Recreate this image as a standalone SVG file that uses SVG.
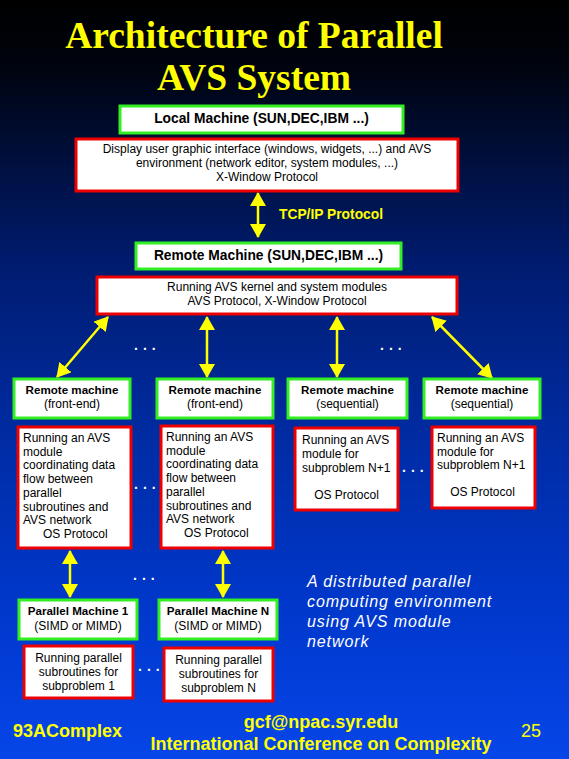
<svg xmlns="http://www.w3.org/2000/svg" width="569" height="759" viewBox="0 0 569 759">
<defs>
<linearGradient id="bg" x1="0" y1="0" x2="0" y2="1">
<stop offset="0" stop-color="#000000"/>
<stop offset="0.08" stop-color="#00030c"/>
<stop offset="0.35" stop-color="#001c70"/>
<stop offset="0.6" stop-color="#002da8"/>
<stop offset="0.8" stop-color="#0038cc"/>
<stop offset="1" stop-color="#0645e8"/>
</linearGradient>
<marker id="ah" viewBox="0 0 14 16" markerUnits="userSpaceOnUse" markerWidth="14" markerHeight="16" refX="13" refY="8" orient="auto-start-reverse">
<path d="M0,0 L14,8 L0,16 z" fill="#ffff00"/>
</marker>
<style>
.g{fill:#ffffff;stroke:#33ee22;stroke-width:3}
.r{fill:#ffffff;stroke:#ee0000;stroke-width:3}
.t{font-family:"Liberation Sans",Arial,sans-serif;font-size:12px;fill:#000000}
.b{font-family:"Liberation Sans",Arial,sans-serif;font-size:11.6px;font-weight:bold;fill:#000000}
.bh{font-family:"Liberation Sans",Arial,sans-serif;font-size:13.8px;font-weight:bold;fill:#000000}
.c{text-anchor:middle}
.a{stroke:#ffff00;stroke-width:2.5;fill:none;marker-start:url(#ah);marker-end:url(#ah)}
.d{font-family:"Liberation Sans",Arial,sans-serif;font-size:14px;font-weight:bold;fill:#ffffff;letter-spacing:5px}
.y{font-family:"Liberation Sans",Arial,sans-serif;font-weight:bold;fill:#ffff00}
</style>
</defs>
<rect x="0" y="0" width="569" height="759" fill="url(#bg)"/>

<g id="title" font-family="'Liberation Serif','Times New Roman',serif" font-weight="bold" font-size="37.5" fill="#ffff00" text-anchor="middle">
<text x="254" y="48">Architecture of Parallel</text>
<text x="254" y="90">AVS System</text>
</g>

<g id="connectors">
<line class="a" x1="258" y1="193" x2="258" y2="237"/>
<line class="a" x1="108" y1="317" x2="57" y2="377"/>
<line class="a" x1="207" y1="317" x2="207" y2="377"/>
<line class="a" x1="337" y1="317" x2="337" y2="377"/>
<line class="a" x1="432" y1="317" x2="492" y2="378"/>
<line class="a" x1="70" y1="551" x2="70" y2="597"/>
<line class="a" x1="223" y1="551" x2="223" y2="597"/>
<text class="y" x="279" y="219" font-size="13.8">TCP/IP Protocol</text>
</g>

<g id="dots">
<text class="d" x="134" y="350">...</text>
<text class="d" x="380" y="350">...</text>
<text class="d" x="134" y="489">...</text>
<text class="d" x="402" y="472">...</text>
<text class="d" x="133" y="580">...</text>
<text class="d" x="138" y="671">...</text>
</g>

<g id="local-machine">
<rect class="g" x="120" y="106" width="283" height="27"/>
<text class="bh c" x="261.5" y="123">Local Machine (SUN,DEC,IBM ...)</text>
</g>
<g id="local-desc">
<rect class="r" x="76" y="139" width="382" height="52"/>
<text class="t c" x="267" y="153">Display user graphic interface (windows, widgets, ...) and AVS</text>
<text class="t c" x="267" y="167">environment (network editor, system modules, ...)</text>
<text class="t c" x="267" y="181">X-Window Protocol</text>
</g>

<g id="remote-machine">
<rect class="g" x="136" y="243" width="265" height="26"/>
<text class="bh c" x="268.5" y="260">Remote Machine (SUN,DEC,IBM ...)</text>
</g>
<g id="remote-desc">
<rect class="r" x="97" y="277" width="360" height="37"/>
<text class="t c" x="277" y="291">Running AVS kernel and system modules</text>
<text class="t c" x="277" y="305">AVS Protocol, X-Window Protocol</text>
</g>

<g id="rm1">
<rect class="g" x="14" y="379" width="116" height="39"/>
<text class="b c" x="72" y="394">Remote machine</text>
<text class="t c" x="72" y="408">(front-end)</text>
</g>
<g id="rm2">
<rect class="g" x="157" y="379" width="116" height="39"/>
<text class="b c" x="215" y="394">Remote machine</text>
<text class="t c" x="215" y="408">(front-end)</text>
</g>
<g id="rm3">
<rect class="g" x="288" y="379" width="119" height="39"/>
<text class="b c" x="347.5" y="394">Remote machine</text>
<text class="t c" x="347.5" y="408">(sequential)</text>
</g>
<g id="rm4">
<rect class="g" x="424" y="379" width="116" height="39"/>
<text class="b c" x="482" y="394">Remote machine</text>
<text class="t c" x="482" y="408">(sequential)</text>
</g>

<g id="mod1">
<rect class="r" x="18" y="427" width="113" height="121"/>
<text class="t" x="23" y="442">Running an AVS</text>
<text class="t" x="23" y="455.7">module</text>
<text class="t" x="23" y="469.4">coordinating data</text>
<text class="t" x="23" y="483.1">flow between</text>
<text class="t" x="23" y="496.8">parallel</text>
<text class="t" x="23" y="510.5">subroutines and</text>
<text class="t" x="23" y="524.2">AVS network</text>
<text class="t" x="43" y="538">OS Protocol</text>
</g>
<g id="mod2">
<rect class="r" x="161" y="426" width="112" height="122"/>
<text class="t" x="166" y="441">Running an AVS</text>
<text class="t" x="166" y="454.7">module</text>
<text class="t" x="166" y="468.4">coordinating data</text>
<text class="t" x="166" y="482.1">flow between</text>
<text class="t" x="166" y="495.8">parallel</text>
<text class="t" x="166" y="509.5">subroutines and</text>
<text class="t" x="166" y="523.2">AVS network</text>
<text class="t" x="184" y="537">OS Protocol</text>
</g>
<g id="mod3">
<rect class="r" x="295" y="428" width="103" height="82"/>
<text class="t" x="302" y="444">Running an AVS</text>
<text class="t" x="302" y="458">module for</text>
<text class="t" x="302" y="472">subproblem  N+1</text>
<text class="t c" x="346.5" y="499">OS Protocol</text>
</g>
<g id="mod4">
<rect class="r" x="432" y="427" width="103" height="81"/>
<text class="t" x="437" y="442">Running an AVS</text>
<text class="t" x="437" y="455.5">module for</text>
<text class="t" x="437" y="469">subproblem  N+1</text>
<text class="t c" x="482.5" y="496">OS Protocol</text>
</g>

<g id="pm1">
<rect class="g" x="19" y="600" width="118" height="39"/>
<text class="b c" x="78" y="615">Parallel Machine 1</text>
<text class="t c" x="78" y="630">(SIMD or MIMD)</text>
</g>
<g id="pmN">
<rect class="g" x="159" y="600" width="118" height="39"/>
<text class="b c" x="218" y="615">Parallel Machine N</text>
<text class="t c" x="218" y="630">(SIMD or MIMD)</text>
</g>
<g id="sub1">
<rect class="r" x="24" y="646" width="109" height="52"/>
<text class="t c" x="78.5" y="662">Running parallel</text>
<text class="t c" x="78.5" y="676">subroutines for</text>
<text class="t c" x="78.5" y="690">subproblem 1</text>
</g>
<g id="subN">
<rect class="r" x="164" y="648" width="109" height="53"/>
<text class="t c" x="218.5" y="664">Running parallel</text>
<text class="t c" x="218.5" y="678">subroutines for</text>
<text class="t c" x="218.5" y="692">subproblem N</text>
</g>

<g id="note" font-family="'Liberation Sans',Arial,sans-serif" font-style="italic" font-size="16" fill="#ffffff" letter-spacing="0.9">
<text x="307" y="587">A distributed parallel</text>
<text x="307" y="607">computing environment</text>
<text x="307" y="627">using AVS module</text>
<text x="307" y="647">network</text>
</g>

<g id="footer">
<text class="y" x="13" y="737" font-size="18">93AComplex</text>
<text class="y c" x="321" y="728" font-size="18">gcf@npac.syr.edu</text>
<text class="y c" x="321" y="750" font-size="18">International Conference on Complexity</text>
<text x="521" y="737" font-family="'Liberation Sans',Arial,sans-serif" font-size="18" fill="#ffff00">25</text>
</g>
</svg>
